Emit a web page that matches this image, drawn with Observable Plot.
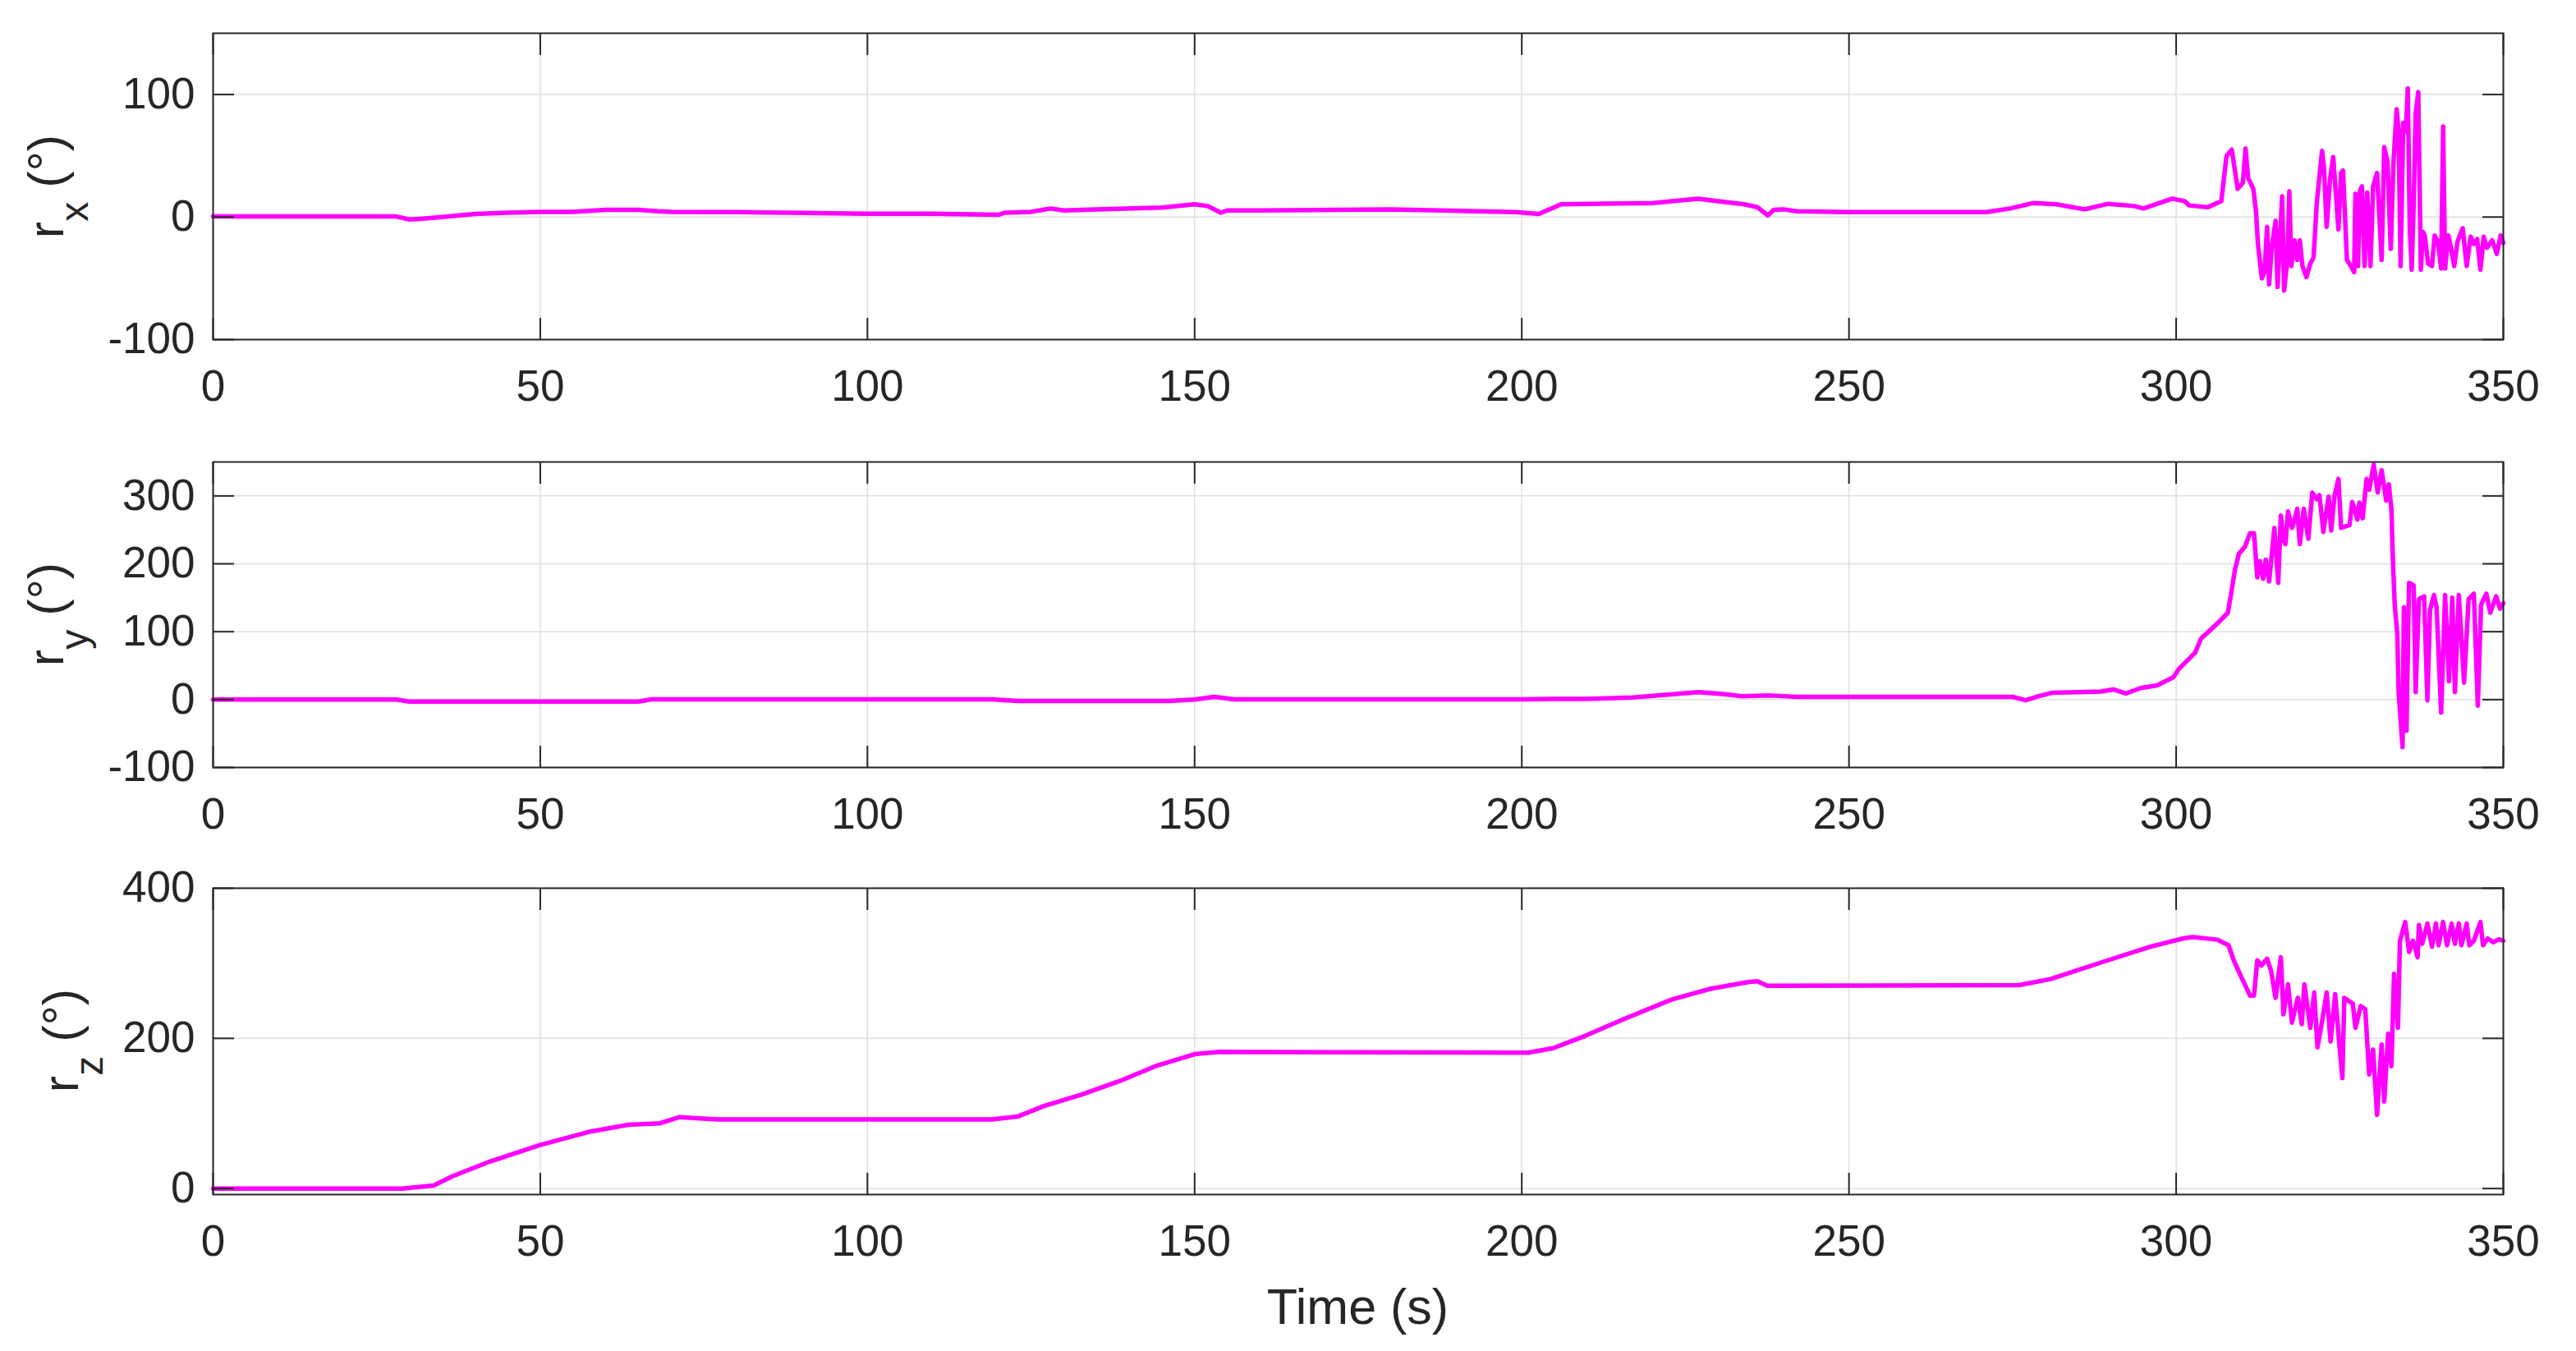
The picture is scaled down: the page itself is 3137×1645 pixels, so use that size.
<!DOCTYPE html>
<html>
<head>
<meta charset="utf-8">
<script src="https://cdn.jsdelivr.net/npm/d3@7"></script>
<script src="https://cdn.jsdelivr.net/npm/@observablehq/plot@0.6"></script>
<style>
  html, body { margin: 0; padding: 0; background: #ffffff; }
  #fig { width: 3137px; height: 1645px; position: relative; background: #ffffff; }
  #fig svg { display: block; }
</style>
</head>
<body>
<div id="fig"></div>
<script>
// ---------- Data ----------
const xTicks = [0, 50, 100, 150, 200, 250, 300, 350];
const rxTicks = [-100, 0, 100];
const ryTicks = [-100, 0, 100, 200, 300];
const rzTicks = [0, 200, 400];

const rxTime = [0, 28, 30, 32, 35, 40, 45, 50, 55, 60, 65, 68, 70, 80, 100, 110, 120, 121, 125, 128, 130, 135, 145, 150, 152, 154, 155, 160, 180, 199, 202.6, 206, 210, 220, 227, 230, 234, 236, 237.6, 238.5, 240, 242, 250, 271, 274.6, 278.2, 281.7, 286, 289.6, 293.6, 295, 299.4, 301.3, 302, 304.8, 306.9, 307.7, 308.5, 309.4, 310.2, 310.6, 311, 311.8, 312.2, 312.5, 313.1, 313.5, 313.9, 314.2, 314.6, 315.2, 315.5, 316.2, 316.5, 317, 317.3, 317.6, 318.1, 318.5, 318.9, 319.3, 319.9, 320.5, 321, 321.5, 322.3, 322.6, 323, 323.5, 324, 324.4, 324.8, 325.2, 325.5, 326.1, 326.7, 327.2, 327.4, 327.8, 328.1, 328.4, 328.8, 329.2, 329.7, 330.1, 330.7, 331.4, 331.8, 332.3, 332.8, 333.2, 333.7, 334, 334.3, 334.7, 335.1, 335.4, 335.7, 336, 336.3, 336.6, 337, 337.4, 337.7, 338, 338.5, 339.1, 339.5, 340, 340.5, 340.8, 341.1, 341.6, 342, 342.5, 343, 343.8, 344.1, 344.4, 345, 345.5, 346, 346.5, 347, 347.5, 348.3, 349, 349.6, 350];
const rxValue = [0.5, 0.5, -2, -1.3, 0, 2.5, 3.6, 4.3, 4.3, 5.9, 5.9, 4.7, 4.3, 4, 2.7, 2.7, 1.8, 3.6, 4.3, 7, 5.4, 6.3, 7.7, 10.4, 9, 3.6, 5.4, 5.4, 6.3, 4, 2.5, 10.4, 10.8, 11.5, 15, 13, 10.4, 8.1, 1.4, 5.9, 6.3, 4.7, 4, 4, 7, 11.5, 10.4, 6.3, 10.8, 9, 7, 15, 13, 9.5, 8, 13, 50, 55, 23, 28, 56, 32, 23, 5, -22, -50, -45, -8, -55, -25, -3, -57, 17, -60, -35, 21, -40, -19, -35, -19, -40, -49, -38, -33, 12, 54, 40, -8, 30, 49, 20, -10, 36, 38, -35, -40, -45, 19, -40, 22, 25, -40, 20, -40, 25, 36, -35, 57, 45, -26, 43, 88, 70, -40, 77, 70, 105, -8, -43, 10, 84, 102, -43, -12, -15, -38, -40, -15, -20, -42, 74, -42, -15, -25, -40, -20, -9, -25, -40, -16, -22, -18, -43, -16, -25, -19, -30, -15, -21];

const ryTime = [0, 28, 30, 31, 65, 67, 119, 123, 146, 150, 153, 156, 200, 205, 210, 217, 222, 227, 231, 233.6, 238, 242, 275, 277, 279, 281, 285, 288.5, 290.4, 292.3, 294.6, 297.1, 299.6, 300.4, 302.9, 303.8, 305.4, 306.7, 307.9, 308.4, 309, 309.6, 310.5, 311.3, 311.9, 312.4, 312.8, 313.3, 313.7, 314.2, 314.6, 315, 315.6, 316, 316.4, 316.7, 317.1, 317.7, 318.1, 318.5, 318.9, 319.5, 320.2, 320.8, 321.5, 321.9, 322.5, 323.3, 323.7, 324.2, 324.8, 325.2, 326.5, 326.9, 327.3, 327.7, 328, 328.5, 329.1, 329.5, 330.2, 330.8, 331.4, 332.1, 332.5, 332.9, 333.1, 333.4, 333.8, 334, 334.6, 334.8, 335.2, 335.6, 336.3, 336.6, 337.1, 337.9, 338.4, 338.8, 339.4, 339.8, 340.5, 341.1, 341.7, 342.2, 342.6, 343.2, 344, 344.7, 345.5, 346.1, 346.6, 347.4, 348, 348.9, 349.5, 350];
const ryValue = [0, 0, -3, -3, -3, 0.5, 0.5, -2, -2, 0, 4, 0.5, 0.5, 1, 1, 3, 7, 11, 8, 5, 6, 4, 4, -1, 5, 10, 11, 12, 15, 9, 17, 21, 33, 45, 69, 90, 104, 116, 128, 156, 192, 215, 225, 245, 245, 180, 204, 178, 206, 174, 212, 253, 172, 271, 235, 229, 277, 253, 265, 281, 229, 281, 237, 305, 295, 301, 247, 299, 249, 300, 325, 253, 257, 291, 280, 265, 290, 267, 325, 309, 346, 305, 338, 293, 317, 280, 212, 140, 96, 11, -70, 136, -46, 172, 168, 11, 148, 152, -1, 132, 154, 136, -19, 154, 27, 150, 11, 154, 25, 148, 156, -9, 140, 156, 128, 152, 134, 142];

const rzTime = [0, 29, 33.7, 36.5, 42.3, 50, 57.7, 63.5, 68.3, 71.2, 77, 119, 123, 127, 132.7, 138.5, 144, 150, 153.8, 201, 204.8, 209.6, 215.4, 223, 228.8, 234.6, 236, 237.5, 276, 280.8, 288.5, 296, 301, 302.5, 306.3, 308, 308.8, 310.1, 311.3, 311.9, 312.4, 313, 313.9, 314.5, 315.2, 316, 316.4, 317.1, 317.7, 318.6, 319.2, 319.6, 320.5, 321.1, 321.6, 322.4, 323, 323.6, 324.3, 324.9, 325.4, 325.7, 327, 327.4, 328.2, 328.9, 329.5, 330.1, 330.7, 331.4, 331.8, 332.4, 332.9, 333.3, 333.9, 334.2, 335, 335.6, 336.2, 336.9, 337.1, 337.6, 338.4, 339.1, 339.7, 340.1, 340.8, 341.4, 342.1, 342.6, 343.2, 343.6, 344.4, 344.8, 345.5, 346.5, 346.9, 347.6, 348.5, 349.3, 350];
const rzValue = [0, 0, 4, 16, 36, 58, 76, 85, 87, 95, 92, 92, 96, 110, 125, 143, 163, 179, 182, 181, 187, 203, 225, 252, 266, 275, 276, 270, 271, 279, 301, 322, 333, 335, 331.5, 324, 304, 279, 257, 257, 304, 297, 306, 290, 254, 308, 232, 272, 221, 254, 219, 272, 214, 261, 188, 228, 261, 196, 259, 196, 147, 254, 246, 214, 243, 239, 152, 185, 98, 192, 116, 206, 163, 286, 214, 330, 355, 315, 330, 308, 351, 326, 353, 322, 353, 324, 355, 324, 353, 326, 353, 324, 353, 324, 330, 355, 324, 333, 328, 332, 330];

// ---------- Layout / style ----------
const W = 3137;
const FONT = "'Liberation Sans', Arial, Helvetica, sans-serif";
const INK = "#262626";
const GRID = "#dfdfdf";
const MAGENTA = "#ff00ff";

const zip = (T, V) => T.map((t, i) => ({t, v: V[i]}));

function panel({data, yDomain, yTicks, height, marginTop, marginBottom}) {
  return Plot.plot({
    width: W,
    height,
    marginLeft: 259,
    marginRight: 89,
    marginTop,
    marginBottom,
    style: {fontFamily: FONT, fontSize: "53px", color: INK, background: "#ffffff", overflow: "visible"},
    x: {domain: [0, 350]},
    y: {domain: yDomain},
    marks: [
      Plot.gridX(xTicks, {stroke: GRID, strokeOpacity: 1, strokeWidth: 1.5}),
      Plot.gridY(yTicks, {stroke: GRID, strokeOpacity: 1, strokeWidth: 1.5}),
      Plot.line(data, {x: "t", y: "v", stroke: MAGENTA, strokeWidth: 5.5, strokeLinejoin: "round", strokeLinecap: "round"}),
      Plot.frame({stroke: INK, strokeWidth: 2}),
      Plot.axisX(xTicks, {anchor: "bottom", tickSize: -26, tickPadding: 63, strokeWidth: 2, label: null, tickFormat: d => String(d)}),
      Plot.axisX(xTicks, {anchor: "top", tickSize: -26, strokeWidth: 2, label: null, tickFormat: () => ""}),
      Plot.axisY(yTicks, {anchor: "left", tickSize: -26, tickPadding: 48, strokeWidth: 2, label: null, tickFormat: d => String(d)}),
      Plot.axisY(yTicks, {anchor: "right", tickSize: -26, strokeWidth: 2, label: null, tickFormat: () => ""})
    ]
  });
}

function yLabel(svgNode, sub, baselineX, centerY) {
  const t = d3.select(svgNode).append("text")
    .attr("transform", `translate(${baselineX},${centerY}) rotate(-90)`)
    .attr("text-anchor", "middle")
    .attr("font-family", FONT)
    .attr("font-size", 61)
    .attr("fill", INK);
  t.append("tspan").text("r");
  t.append("tspan").attr("font-size", 48).attr("dy", 30).text(sub);
  t.append("tspan").attr("dy", -30).text(" (°)");
}

const fig = document.getElementById("fig");

const p1 = panel({data: zip(rxTime, rxValue), yDomain: [-100, 150], yTicks: rxTicks, height: 520, marginTop: 40, marginBottom: 107});
yLabel(p1, "x", 77, 227);
fig.appendChild(p1);

const p2 = panel({data: zip(ryTime, ryValue), yDomain: [-100, 350], yTicks: ryTicks, height: 520, marginTop: 42, marginBottom: 106});
yLabel(p2, "y", 77, 228);
fig.appendChild(p2);

const p3 = panel({data: zip(rzTime, rzValue), yDomain: [-8, 400], yTicks: rzTicks, height: 605, marginTop: 41, marginBottom: 191});
yLabel(p3, "z", 95, 227);
d3.select(p3).append("text")
  .attr("x", (259 + 3048) / 2)
  .attr("y", 572)
  .attr("text-anchor", "middle")
  .attr("font-family", FONT)
  .attr("font-size", 61)
  .attr("fill", INK)
  .text("Time (s)");
fig.appendChild(p3);
</script>
</body>
</html>
